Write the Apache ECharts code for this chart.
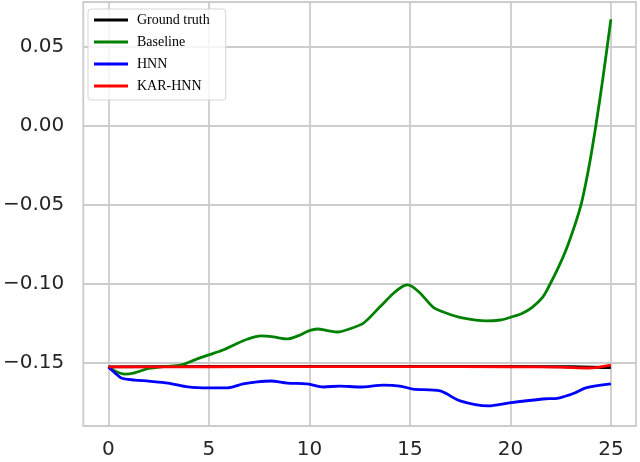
<!DOCTYPE html>
<html>
<head>
<meta charset="utf-8">
<script src="https://cdn.jsdelivr.net/npm/echarts@6/dist/echarts.min.js"></script>
<style>html,body{margin:0;padding:0;background:#fff}#c{width:640px;height:462px}</style>
</head>
<body>
<div id="c"></div>
<script>
const xTicks = [0, 5, 10, 15, 20, 25];
const yTicks = [-0.15, -0.10, -0.05, 0.00, 0.05];
const seriesNames = ['Ground truth', 'Baseline', 'HNN', 'KAR-HNN'];

const truthT = [0, 5, 10, 15, 20, 23, 25];
const truthV = [-0.1525, -0.1522, -0.1521, -0.1521, -0.1522, -0.1524, -0.1530];

const baseT = [0, 0.4, 0.8, 1.3, 2.0, 2.8, 3.6, 4.3, 5.0, 5.7, 6.25, 6.9, 7.6, 8.2, 8.9, 9.5, 10.0, 10.4, 10.9, 11.4, 12.1, 12.7, 13.5, 14.2, 14.67, 14.9, 15.5, 16.15, 16.8, 17.6, 18.8, 19.5, 20.05, 20.6, 21.1, 21.6, 21.9, 22.4, 22.9, 23.5, 23.9, 24.25, 24.6, 25.0];
const baseV = [-0.1525, -0.1555, -0.1570, -0.1562, -0.1535, -0.1522, -0.1513, -0.1480, -0.1449, -0.1418, -0.1386, -0.1350, -0.1329, -0.1335, -0.1348, -0.1325, -0.1295, -0.1285, -0.1295, -0.1304, -0.1280, -0.1247, -0.1146, -0.1057, -0.1013, -0.1006, -0.1057, -0.1146, -0.1184, -0.1215, -0.1234, -0.1228, -0.1209, -0.1185, -0.1146, -0.1085, -0.1019, -0.0892, -0.0740, -0.0506, -0.0265, 0.0000, 0.0300, 0.0675];

const hnnT = [0, 0.3, 0.64, 1.3, 2.0, 2.97, 3.96, 5.0, 5.9, 6.7, 7.4, 8.07, 8.9, 9.9, 10.7, 11.5, 12.5, 13.7, 14.5, 15.15, 16.5, 17.5, 18.9, 19.95, 21.6, 22.4, 23.2, 23.75, 25.0];
const hnnV = [-0.1525, -0.1560, -0.1595, -0.1608, -0.1615, -0.1627, -0.1652, -0.1658, -0.1658, -0.1633, -0.1620, -0.1614, -0.1627, -0.1633, -0.1652, -0.1646, -0.1652, -0.1640, -0.1646, -0.1665, -0.1677, -0.1740, -0.1772, -0.1753, -0.1728, -0.1722, -0.1690, -0.1658, -0.1633];

const karT = [0, 5, 10, 15, 20, 22.5, 23.9, 25];
const karV = [-0.1525, -0.1524, -0.1523, -0.1523, -0.1524, -0.1526, -0.1532, -0.1513];

const colors = ['#000000', '#008000', '#0000ff', '#ff0000'];
const zip = (t, v) => t.map((x, i) => [x, v[i]]);
const allData = [zip(truthT, truthV), zip(baseT, baseV), zip(hnnT, hnnV), zip(karT, karV)];

const chart = echarts.init(document.getElementById('c'), null, {renderer: 'canvas'});
const fmtY = v => v.toFixed(2).replace('-', '\u2212');
chart.setOption({
  animation: false,
  backgroundColor: '#ffffff',
  grid: {left: 81, right: 4, top: 2, bottom: 36, show: true, borderColor: '#cccccc', borderWidth: 1.8, containLabel: false},
  legend: {
    orient: 'vertical', left: 88, top: 9,
    data: seriesNames, icon: 'rect', itemWidth: 34, itemHeight: 3, itemGap: 8,
    padding: [4, 16, 7, 6],
    backgroundColor: 'rgba(255,255,255,0.8)', borderColor: '#d5d5d5', borderWidth: 1, borderRadius: 3,
    textStyle: {fontFamily: 'Liberation Serif', fontSize: 14, color: '#000', lineHeight: 14, padding: [0, 0, 0, 4]}
  },
  xAxis: {
    type: 'value', min: -1.25, max: 26.25,
    axisLine: {show: false}, axisTick: {show: false, customValues: xTicks},
    axisLabel: {customValues: xTicks, fontFamily: 'DejaVu Sans', fontSize: 20, color: '#262626', margin: 14},
    splitLine: {show: true, lineStyle: {color: '#cccccc', width: 1.8}}
  },
  yAxis: {
    type: 'value', min: -0.1899, max: 0.0785,
    axisLine: {show: false}, axisTick: {show: false, customValues: yTicks},
    axisLabel: {customValues: yTicks, fontFamily: 'DejaVu Sans', fontSize: 20, color: '#262626', margin: 19, formatter: fmtY},
    splitLine: {show: true, lineStyle: {color: '#cccccc', width: 1.8}}
  },
  series: seriesNames.map((n, i) => ({
    name: n, type: 'line', data: allData[i], showSymbol: false, symbol: 'none',
    smooth: 0.3, color: colors[i], lineStyle: {color: colors[i], width: 2.8}, z: 2 + i
  }))
});
</script>
</body>
</html>
